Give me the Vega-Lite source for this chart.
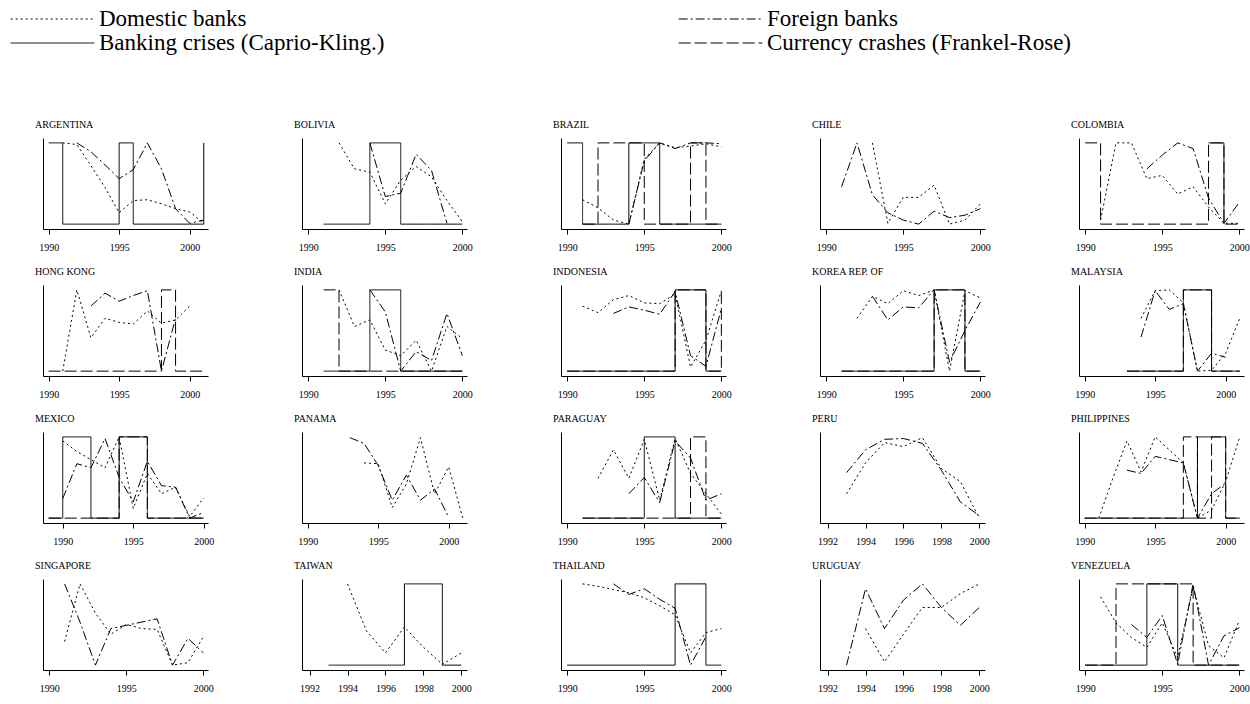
{
  "$schema": "https://vega.github.io/schema/vega-lite/v6.json",
  "background": "white",
  "padding": {"left": 10, "top": 7, "right": 0, "bottom": 0},
  "datasets": {
    "argentina": [
      {"year": 1990, "bank": 1},
      {"year": 1991, "dom": 1, "bank": 0},
      {"year": 1992, "dom": 0.98, "frg": 1, "bank": 0},
      {"year": 1993, "dom": 0.72, "frg": 0.89, "bank": 0},
      {"year": 1994, "dom": 0.45, "frg": 0.73, "bank": 0},
      {"year": 1995, "dom": 0.14, "frg": 0.56, "bank": 1},
      {"year": 1996, "dom": 0.29, "frg": 0.67, "bank": 0},
      {"year": 1997, "dom": 0.3, "frg": 1, "bank": 0},
      {"year": 1998, "dom": 0.25, "frg": 0.68, "bank": 0},
      {"year": 1999, "dom": 0.19, "frg": 0.19, "bank": 0},
      {"year": 2000, "dom": 0.15, "frg": 0.01, "bank": 0},
      {"year": 2001, "dom": 0.01, "frg": 0.05, "bank": 1}
    ],
    "bolivia": [
      {"year": 1991, "bank": 0},
      {"year": 1992, "dom": 1, "bank": 0},
      {"year": 1993, "dom": 0.68, "bank": 0},
      {"year": 1994, "dom": 0.64, "frg": 1, "bank": 1},
      {"year": 1995, "dom": 0.25, "frg": 0.34, "bank": 1},
      {"year": 1996, "dom": 0.54, "frg": 0.38, "bank": 0},
      {"year": 1997, "dom": 0.71, "frg": 0.86, "bank": 0},
      {"year": 1998, "dom": 0.58, "frg": 0.66, "bank": 0},
      {"year": 1999, "dom": 0.29, "frg": 0.01, "bank": 0},
      {"year": 2000, "dom": 0.03, "bank": 0}
    ],
    "brazil": [
      {"year": 1990, "bank": 1},
      {"year": 1991, "dom": 0.3, "bank": 0, "cur": 0},
      {"year": 1992, "dom": 0.2, "bank": 0, "cur": 1},
      {"year": 1993, "dom": 0.05, "bank": 0, "cur": 1},
      {"year": 1994, "dom": 0, "frg": 0, "bank": 1, "cur": 1},
      {"year": 1995, "dom": 0.8, "frg": 0.78, "bank": 1, "cur": 0},
      {"year": 1996, "dom": 1, "frg": 1, "bank": 0, "cur": 0},
      {"year": 1997, "dom": 0.94, "frg": 0.93, "bank": 0, "cur": 0},
      {"year": 1998, "dom": 0.96, "frg": 1, "bank": 0, "cur": 1},
      {"year": 1999, "dom": 0.99, "frg": 1, "bank": 0, "cur": 0},
      {"year": 2000, "dom": 0.95, "frg": 0.99, "bank": 0, "cur": 0}
    ],
    "chile": [
      {"year": 1991, "frg": 0.46},
      {"year": 1992, "frg": 1},
      {"year": 1993, "dom": 1, "frg": 0.36},
      {"year": 1994, "dom": 0.01, "frg": 0.14},
      {"year": 1995, "dom": 0.33, "frg": 0.05},
      {"year": 1996, "dom": 0.33, "frg": 0},
      {"year": 1997, "dom": 0.48, "frg": 0.16},
      {"year": 1998, "dom": 0, "frg": 0.08},
      {"year": 1999, "dom": 0.05, "frg": 0.11},
      {"year": 2000, "dom": 0.25, "frg": 0.19}
    ],
    "colombia": [
      {"year": 1990, "cur": 1},
      {"year": 1991, "dom": 0.05, "cur": 0},
      {"year": 1992, "dom": 1, "cur": 0},
      {"year": 1993, "dom": 1, "cur": 0},
      {"year": 1994, "dom": 0.56, "frg": 0.68, "cur": 0},
      {"year": 1995, "dom": 0.6, "frg": 0.85, "cur": 0},
      {"year": 1996, "dom": 0.37, "frg": 1, "cur": 0},
      {"year": 1997, "dom": 0.46, "frg": 0.93, "cur": 0},
      {"year": 1998, "dom": 0.21, "frg": 0.32, "bank": 1, "cur": 1},
      {"year": 1999, "dom": 0.01, "frg": 0.01, "bank": 0, "cur": 0},
      {"year": 2000, "dom": 0.01, "frg": 0.27, "cur": 0}
    ],
    "hongkong": [
      {"year": 1990, "cur": 0},
      {"year": 1991, "dom": 0, "cur": 0},
      {"year": 1992, "dom": 1, "cur": 0},
      {"year": 1993, "dom": 0.41, "frg": 0.8, "cur": 0},
      {"year": 1994, "dom": 0.65, "frg": 0.96, "cur": 0},
      {"year": 1995, "dom": 0.6, "frg": 0.86, "cur": 0},
      {"year": 1996, "dom": 0.58, "frg": 0.93, "cur": 0},
      {"year": 1997, "dom": 0.74, "frg": 0.99, "cur": 0},
      {"year": 1998, "dom": 0.59, "frg": 0, "cur": 1},
      {"year": 1999, "dom": 0.63, "frg": 0.65, "cur": 0},
      {"year": 2000, "dom": 0.8, "cur": 0},
      {"year": 2001, "cur": 0}
    ],
    "india": [
      {"year": 1991, "bank": 0, "cur": 1},
      {"year": 1992, "dom": 1, "bank": 0, "cur": 0},
      {"year": 1993, "dom": 0.55, "bank": 0, "cur": 0},
      {"year": 1994, "dom": 0.63, "frg": 1, "bank": 1, "cur": 0},
      {"year": 1995, "dom": 0.26, "frg": 0.73, "bank": 1, "cur": 0},
      {"year": 1996, "dom": 0.19, "frg": 0, "bank": 0, "cur": 0},
      {"year": 1997, "dom": 0.38, "frg": 0.24, "bank": 0, "cur": 0},
      {"year": 1998, "dom": 0, "frg": 0.13, "bank": 0, "cur": 0},
      {"year": 1999, "dom": 0.55, "frg": 0.71, "bank": 0, "cur": 0},
      {"year": 2000, "dom": 0.4, "frg": 0.19, "bank": 0, "cur": 0}
    ],
    "indonesia": [
      {"year": 1990, "bank": 0, "cur": 0},
      {"year": 1991, "dom": 0.8, "bank": 0, "cur": 0},
      {"year": 1992, "dom": 0.72, "bank": 0, "cur": 0},
      {"year": 1993, "dom": 0.88, "frg": 0.71, "bank": 0, "cur": 0},
      {"year": 1994, "dom": 0.93, "frg": 0.79, "bank": 0, "cur": 0},
      {"year": 1995, "dom": 0.84, "frg": 0.75, "bank": 0, "cur": 0},
      {"year": 1996, "dom": 0.83, "frg": 0.7, "bank": 0, "cur": 0},
      {"year": 1997, "dom": 0.95, "frg": 0.98, "bank": 1, "cur": 1},
      {"year": 1998, "dom": 0.05, "frg": 0.19, "bank": 1, "cur": 1},
      {"year": 1999, "dom": 0.38, "frg": 0.06, "bank": 0, "cur": 0},
      {"year": 2000, "dom": 0.99, "frg": 0.77, "bank": 0, "cur": 1}
    ],
    "korea": [
      {"year": 1991, "bank": 0, "cur": 0},
      {"year": 1992, "dom": 0.65, "bank": 0, "cur": 0},
      {"year": 1993, "dom": 0.92, "frg": 0.92, "bank": 0, "cur": 0},
      {"year": 1994, "dom": 0.83, "frg": 0.63, "bank": 0, "cur": 0},
      {"year": 1995, "dom": 0.99, "frg": 0.79, "bank": 0, "cur": 0},
      {"year": 1996, "dom": 0.93, "frg": 0.78, "bank": 0, "cur": 0},
      {"year": 1997, "dom": 1, "frg": 1, "bank": 1, "cur": 1},
      {"year": 1998, "dom": 0, "frg": 0.11, "bank": 1, "cur": 1},
      {"year": 1999, "dom": 0.99, "frg": 0.5, "bank": 0, "cur": 0},
      {"year": 2000, "dom": 0.9, "frg": 0.85, "bank": 0, "cur": 0}
    ],
    "malaysia": [
      {"year": 1993, "bank": 0, "cur": 0},
      {"year": 1994, "dom": 0.65, "frg": 0.42, "bank": 0, "cur": 0},
      {"year": 1995, "dom": 0.99, "frg": 0.99, "bank": 0, "cur": 0},
      {"year": 1996, "dom": 1, "frg": 0.76, "bank": 0, "cur": 0},
      {"year": 1997, "dom": 0.84, "frg": 0.83, "bank": 1, "cur": 1},
      {"year": 1998, "dom": 0, "frg": 0, "bank": 1, "cur": 1},
      {"year": 1999, "dom": 0.01, "frg": 0.22, "bank": 0, "cur": 0},
      {"year": 2000, "dom": 0.22, "frg": 0.17, "bank": 0, "cur": 0},
      {"year": 2001, "dom": 0.65, "bank": 0, "cur": 0}
    ],
    "mexico": [
      {"year": 1989, "bank": 0, "cur": 0},
      {"year": 1990, "dom": 0.95, "frg": 0.24, "bank": 1, "cur": 0},
      {"year": 1991, "dom": 0.82, "frg": 0.67, "bank": 1, "cur": 0},
      {"year": 1992, "dom": 0.72, "frg": 0.62, "bank": 0, "cur": 0},
      {"year": 1993, "dom": 0.62, "frg": 0.98, "bank": 0, "cur": 0},
      {"year": 1994, "dom": 1, "frg": 0.5, "bank": 1, "cur": 1},
      {"year": 1995, "dom": 0.12, "frg": 0.2, "bank": 1, "cur": 1},
      {"year": 1996, "dom": 0.55, "frg": 0.7, "bank": 0, "cur": 0},
      {"year": 1997, "dom": 0.3, "frg": 0.4, "bank": 0, "cur": 0},
      {"year": 1998, "dom": 0.38, "frg": 0.38, "bank": 0, "cur": 0},
      {"year": 1999, "dom": 0.02, "frg": 0, "bank": 0, "cur": 0},
      {"year": 2000, "dom": 0.25, "frg": 0.07, "bank": 0, "cur": 0}
    ],
    "panama": [
      {"year": 1993, "frg": 0.99},
      {"year": 1994, "dom": 0.68, "frg": 0.92},
      {"year": 1995, "dom": 0.67, "frg": 0.65},
      {"year": 1996, "dom": 0.13, "frg": 0.22},
      {"year": 1997, "dom": 0.42, "frg": 0.53},
      {"year": 1998, "dom": 0.99, "frg": 0.22},
      {"year": 1999, "dom": 0.3, "frg": 0.36},
      {"year": 2000, "dom": 0.63, "frg": 0.01},
      {"year": 2001, "dom": 0}
    ],
    "paraguay": [
      {"year": 1991, "bank": 0, "cur": 0},
      {"year": 1992, "dom": 0.49, "bank": 0, "cur": 0},
      {"year": 1993, "dom": 0.84, "bank": 0, "cur": 0},
      {"year": 1994, "dom": 0.49, "frg": 0.3, "bank": 0, "cur": 0},
      {"year": 1995, "dom": 0.97, "frg": 0.5, "bank": 1, "cur": 0},
      {"year": 1996, "dom": 0.22, "frg": 0.19, "bank": 1, "cur": 0},
      {"year": 1997, "dom": 0.98, "frg": 0.95, "bank": 0, "cur": 0},
      {"year": 1998, "dom": 0.55, "frg": 0.74, "bank": 0, "cur": 1},
      {"year": 1999, "dom": 0.3, "frg": 0.22, "bank": 0, "cur": 0},
      {"year": 2000, "dom": 0.05, "frg": 0.3, "bank": 0, "cur": 0}
    ],
    "peru": [
      {"year": 1993, "dom": 0.3, "frg": 0.56},
      {"year": 1994, "dom": 0.68, "frg": 0.84},
      {"year": 1995, "dom": 0.93, "frg": 0.97},
      {"year": 1996, "dom": 0.88, "frg": 0.98},
      {"year": 1997, "dom": 0.99, "frg": 0.92},
      {"year": 1998, "dom": 0.61, "frg": 0.59},
      {"year": 1999, "dom": 0.45, "frg": 0.2},
      {"year": 2000, "dom": 0, "frg": 0.03}
    ],
    "philippines": [
      {"year": 1990, "bank": 0, "cur": 0},
      {"year": 1991, "dom": 0, "bank": 0, "cur": 0},
      {"year": 1992, "dom": 0.49, "bank": 0, "cur": 0},
      {"year": 1993, "dom": 0.95, "frg": 0.59, "bank": 0, "cur": 0},
      {"year": 1994, "dom": 0.57, "frg": 0.55, "bank": 0, "cur": 0},
      {"year": 1995, "dom": 1, "frg": 0.76, "bank": 0, "cur": 0},
      {"year": 1996, "dom": 0.84, "frg": 0.72, "bank": 0, "cur": 0},
      {"year": 1997, "dom": 0.68, "frg": 0.68, "bank": 0, "cur": 1},
      {"year": 1998, "dom": 0, "frg": 0, "bank": 1, "cur": 0},
      {"year": 1999, "dom": 0.1, "frg": 0.3, "bank": 1, "cur": 1},
      {"year": 2000, "dom": 0.45, "frg": 0.43, "bank": 0, "cur": 0},
      {"year": 2001, "dom": 1, "bank": 0, "cur": 0}
    ],
    "singapore": [
      {"year": 1991, "dom": 0.29, "frg": 1},
      {"year": 1992, "dom": 1, "frg": 0.53},
      {"year": 1993, "dom": 0.64, "frg": 0},
      {"year": 1994, "dom": 0.38, "frg": 0.45},
      {"year": 1995, "dom": 0.5, "frg": 0.49},
      {"year": 1996, "dom": 0.45, "frg": 0.53},
      {"year": 1997, "dom": 0.44, "frg": 0.57},
      {"year": 1998, "dom": 0, "frg": 0},
      {"year": 1999, "dom": 0.03, "frg": 0.33},
      {"year": 2000, "dom": 0.35, "frg": 0.15}
    ],
    "taiwan": [
      {"year": 1993, "bank": 0},
      {"year": 1994, "dom": 1, "bank": 0},
      {"year": 1995, "dom": 0.42, "bank": 0},
      {"year": 1996, "dom": 0.15, "bank": 0},
      {"year": 1997, "dom": 0.47, "bank": 1},
      {"year": 1998, "dom": 0.22, "bank": 1},
      {"year": 1999, "dom": 0.01, "bank": 0},
      {"year": 2000, "dom": 0.15, "bank": 0}
    ],
    "thailand": [
      {"year": 1990, "bank": 0},
      {"year": 1991, "dom": 1, "bank": 0},
      {"year": 1992, "dom": 0.97, "bank": 0},
      {"year": 1993, "dom": 0.93, "frg": 1, "bank": 0},
      {"year": 1994, "dom": 0.89, "frg": 0.87, "bank": 0},
      {"year": 1995, "dom": 0.83, "frg": 0.94, "bank": 0},
      {"year": 1996, "dom": 0.73, "frg": 0.81, "bank": 0},
      {"year": 1997, "dom": 0.62, "frg": 0.7, "bank": 1},
      {"year": 1998, "dom": 0.15, "frg": 0, "bank": 1},
      {"year": 1999, "dom": 0.4, "frg": 0.35, "bank": 0},
      {"year": 2000, "dom": 0.45, "bank": 0}
    ],
    "uruguay": [
      {"year": 1993, "frg": 0},
      {"year": 1994, "dom": 0.45, "frg": 0.94},
      {"year": 1995, "dom": 0.04, "frg": 0.45},
      {"year": 1996, "dom": 0.38, "frg": 0.8},
      {"year": 1997, "dom": 0.71, "frg": 1},
      {"year": 1998, "dom": 0.71, "frg": 0.71},
      {"year": 1999, "dom": 0.88, "frg": 0.49},
      {"year": 2000, "dom": 1, "frg": 0.71}
    ],
    "venezuela": [
      {"year": 1990, "bank": 0, "cur": 0},
      {"year": 1991, "dom": 0.84, "bank": 0, "cur": 0},
      {"year": 1992, "dom": 0.52, "bank": 0, "cur": 1},
      {"year": 1993, "dom": 0.34, "frg": 0.5, "bank": 0, "cur": 1},
      {"year": 1994, "dom": 0.22, "frg": 0.34, "bank": 1, "cur": 1},
      {"year": 1995, "dom": 0.52, "frg": 0.61, "bank": 1, "cur": 1},
      {"year": 1996, "dom": 0.09, "frg": 0.01, "bank": 0, "cur": 1},
      {"year": 1997, "dom": 0.96, "frg": 1, "bank": 0, "cur": 0},
      {"year": 1998, "dom": 0.24, "frg": 0, "bank": 0, "cur": 0},
      {"year": 1999, "dom": 0.09, "frg": 0.36, "bank": 0, "cur": 0},
      {"year": 2000, "dom": 0.55, "frg": 0.46, "bank": 0, "cur": 0}
    ]
  },
  "columns": 5,
  "spacing": {"row": 15, "column": 80},
  "concat": [
    {"title": "ARGENTINA", "data": {"name": "argentina"},
     "transform": [{"fold": ["dom", "frg", "bank", "cur"], "as": ["series", "value"]}, {"filter": "isValid(datum.value)"}],
     "encoding": {
       "x": {"field": "year", "type": "quantitative", "title": null, "scale": {"domain": [1989.6, 2001.3]}, "axis": {"values": [1990, 1995, 2000]}},
       "y": {"field": "value", "type": "quantitative", "title": null, "scale": {"domain": [-0.06, 1.06]}},
       "strokeDash": {"field": "series", "type": "nominal", "scale": {"domain": ["dom", "bank", "frg", "cur"], "range": [[2, 3], [1, 0], [9, 3, 2, 3], [12, 4]]}, "legend": {"title": null, "labelExpr": "datum.label=='dom'?'Domestic banks':datum.label=='frg'?'Foreign banks':datum.label=='bank'?'Banking crises (Caprio-Kling.)':'Currency crashes (Frankel-Rose)'"}}
     },
     "layer": [
       {"transform": [{"filter": "datum.series=='dom'||datum.series=='frg'"}], "mark": "line"},
       {"transform": [{"filter": "datum.series=='bank'||datum.series=='cur'"}], "mark": {"type": "line", "interpolate": "step-after"}}
     ]},
    {"title": "BOLIVIA", "data": {"name": "bolivia"},
     "transform": [{"fold": ["dom", "frg", "bank", "cur"], "as": ["series", "value"]}, {"filter": "isValid(datum.value)"}],
     "encoding": {
       "x": {"field": "year", "type": "quantitative", "title": null, "scale": {"domain": [1989.6, 2000.3]}, "axis": {"values": [1990, 1995, 2000]}},
       "y": {"field": "value", "type": "quantitative", "title": null, "scale": {"domain": [-0.06, 1.06]}},
       "strokeDash": {"field": "series", "type": "nominal", "scale": {"domain": ["dom", "bank", "frg", "cur"], "range": [[2, 3], [1, 0], [9, 3, 2, 3], [12, 4]]}, "legend": {"title": null, "labelExpr": "datum.label=='dom'?'Domestic banks':datum.label=='frg'?'Foreign banks':datum.label=='bank'?'Banking crises (Caprio-Kling.)':'Currency crashes (Frankel-Rose)'"}}
     },
     "layer": [
       {"transform": [{"filter": "datum.series=='dom'||datum.series=='frg'"}], "mark": "line"},
       {"transform": [{"filter": "datum.series=='bank'||datum.series=='cur'"}], "mark": {"type": "line", "interpolate": "step-after"}}
     ]},
    {"title": "BRAZIL", "data": {"name": "brazil"},
     "transform": [{"fold": ["dom", "frg", "bank", "cur"], "as": ["series", "value"]}, {"filter": "isValid(datum.value)"}],
     "encoding": {
       "x": {"field": "year", "type": "quantitative", "title": null, "scale": {"domain": [1989.6, 2000.3]}, "axis": {"values": [1990, 1995, 2000]}},
       "y": {"field": "value", "type": "quantitative", "title": null, "scale": {"domain": [-0.06, 1.06]}},
       "strokeDash": {"field": "series", "type": "nominal", "scale": {"domain": ["dom", "bank", "frg", "cur"], "range": [[2, 3], [1, 0], [9, 3, 2, 3], [12, 4]]}, "legend": {"title": null, "labelExpr": "datum.label=='dom'?'Domestic banks':datum.label=='frg'?'Foreign banks':datum.label=='bank'?'Banking crises (Caprio-Kling.)':'Currency crashes (Frankel-Rose)'"}}
     },
     "layer": [
       {"transform": [{"filter": "datum.series=='dom'||datum.series=='frg'"}], "mark": "line"},
       {"transform": [{"filter": "datum.series=='bank'||datum.series=='cur'"}], "mark": {"type": "line", "interpolate": "step-after"}}
     ]},
    {"title": "CHILE", "data": {"name": "chile"},
     "transform": [{"fold": ["dom", "frg", "bank", "cur"], "as": ["series", "value"]}, {"filter": "isValid(datum.value)"}],
     "encoding": {
       "x": {"field": "year", "type": "quantitative", "title": null, "scale": {"domain": [1989.6, 2000.3]}, "axis": {"values": [1990, 1995, 2000]}},
       "y": {"field": "value", "type": "quantitative", "title": null, "scale": {"domain": [-0.06, 1.06]}},
       "strokeDash": {"field": "series", "type": "nominal", "scale": {"domain": ["dom", "bank", "frg", "cur"], "range": [[2, 3], [1, 0], [9, 3, 2, 3], [12, 4]]}, "legend": {"title": null, "labelExpr": "datum.label=='dom'?'Domestic banks':datum.label=='frg'?'Foreign banks':datum.label=='bank'?'Banking crises (Caprio-Kling.)':'Currency crashes (Frankel-Rose)'"}}
     },
     "layer": [
       {"transform": [{"filter": "datum.series=='dom'||datum.series=='frg'"}], "mark": "line"},
       {"transform": [{"filter": "datum.series=='bank'||datum.series=='cur'"}], "mark": {"type": "line", "interpolate": "step-after"}}
     ]},
    {"title": "COLOMBIA", "data": {"name": "colombia"},
     "transform": [{"fold": ["dom", "frg", "bank", "cur"], "as": ["series", "value"]}, {"filter": "isValid(datum.value)"}],
     "encoding": {
       "x": {"field": "year", "type": "quantitative", "title": null, "scale": {"domain": [1989.6, 2000.3]}, "axis": {"values": [1990, 1995, 2000]}},
       "y": {"field": "value", "type": "quantitative", "title": null, "scale": {"domain": [-0.06, 1.06]}},
       "strokeDash": {"field": "series", "type": "nominal", "scale": {"domain": ["dom", "bank", "frg", "cur"], "range": [[2, 3], [1, 0], [9, 3, 2, 3], [12, 4]]}, "legend": {"title": null, "labelExpr": "datum.label=='dom'?'Domestic banks':datum.label=='frg'?'Foreign banks':datum.label=='bank'?'Banking crises (Caprio-Kling.)':'Currency crashes (Frankel-Rose)'"}}
     },
     "layer": [
       {"transform": [{"filter": "datum.series=='dom'||datum.series=='frg'"}], "mark": "line"},
       {"transform": [{"filter": "datum.series=='bank'||datum.series=='cur'"}], "mark": {"type": "line", "interpolate": "step-after"}}
     ]},
    {"title": "HONG KONG", "data": {"name": "hongkong"},
     "transform": [{"fold": ["dom", "frg", "bank", "cur"], "as": ["series", "value"]}, {"filter": "isValid(datum.value)"}],
     "encoding": {
       "x": {"field": "year", "type": "quantitative", "title": null, "scale": {"domain": [1989.6, 2001.3]}, "axis": {"values": [1990, 1995, 2000]}},
       "y": {"field": "value", "type": "quantitative", "title": null, "scale": {"domain": [-0.06, 1.06]}},
       "strokeDash": {"field": "series", "type": "nominal", "scale": {"domain": ["dom", "bank", "frg", "cur"], "range": [[2, 3], [1, 0], [9, 3, 2, 3], [12, 4]]}, "legend": {"title": null, "labelExpr": "datum.label=='dom'?'Domestic banks':datum.label=='frg'?'Foreign banks':datum.label=='bank'?'Banking crises (Caprio-Kling.)':'Currency crashes (Frankel-Rose)'"}}
     },
     "layer": [
       {"transform": [{"filter": "datum.series=='dom'||datum.series=='frg'"}], "mark": "line"},
       {"transform": [{"filter": "datum.series=='bank'||datum.series=='cur'"}], "mark": {"type": "line", "interpolate": "step-after"}}
     ]},
    {"title": "INDIA", "data": {"name": "india"},
     "transform": [{"fold": ["dom", "frg", "bank", "cur"], "as": ["series", "value"]}, {"filter": "isValid(datum.value)"}],
     "encoding": {
       "x": {"field": "year", "type": "quantitative", "title": null, "scale": {"domain": [1989.6, 2000.3]}, "axis": {"values": [1990, 1995, 2000]}},
       "y": {"field": "value", "type": "quantitative", "title": null, "scale": {"domain": [-0.06, 1.06]}},
       "strokeDash": {"field": "series", "type": "nominal", "scale": {"domain": ["dom", "bank", "frg", "cur"], "range": [[2, 3], [1, 0], [9, 3, 2, 3], [12, 4]]}, "legend": {"title": null, "labelExpr": "datum.label=='dom'?'Domestic banks':datum.label=='frg'?'Foreign banks':datum.label=='bank'?'Banking crises (Caprio-Kling.)':'Currency crashes (Frankel-Rose)'"}}
     },
     "layer": [
       {"transform": [{"filter": "datum.series=='dom'||datum.series=='frg'"}], "mark": "line"},
       {"transform": [{"filter": "datum.series=='bank'||datum.series=='cur'"}], "mark": {"type": "line", "interpolate": "step-after"}}
     ]},
    {"title": "INDONESIA", "data": {"name": "indonesia"},
     "transform": [{"fold": ["dom", "frg", "bank", "cur"], "as": ["series", "value"]}, {"filter": "isValid(datum.value)"}],
     "encoding": {
       "x": {"field": "year", "type": "quantitative", "title": null, "scale": {"domain": [1989.6, 2000.3]}, "axis": {"values": [1990, 1995, 2000]}},
       "y": {"field": "value", "type": "quantitative", "title": null, "scale": {"domain": [-0.06, 1.06]}},
       "strokeDash": {"field": "series", "type": "nominal", "scale": {"domain": ["dom", "bank", "frg", "cur"], "range": [[2, 3], [1, 0], [9, 3, 2, 3], [12, 4]]}, "legend": {"title": null, "labelExpr": "datum.label=='dom'?'Domestic banks':datum.label=='frg'?'Foreign banks':datum.label=='bank'?'Banking crises (Caprio-Kling.)':'Currency crashes (Frankel-Rose)'"}}
     },
     "layer": [
       {"transform": [{"filter": "datum.series=='dom'||datum.series=='frg'"}], "mark": "line"},
       {"transform": [{"filter": "datum.series=='bank'||datum.series=='cur'"}], "mark": {"type": "line", "interpolate": "step-after"}}
     ]},
    {"title": "KOREA REP. OF", "data": {"name": "korea"},
     "transform": [{"fold": ["dom", "frg", "bank", "cur"], "as": ["series", "value"]}, {"filter": "isValid(datum.value)"}],
     "encoding": {
       "x": {"field": "year", "type": "quantitative", "title": null, "scale": {"domain": [1989.6, 2000.3]}, "axis": {"values": [1990, 1995, 2000]}},
       "y": {"field": "value", "type": "quantitative", "title": null, "scale": {"domain": [-0.06, 1.06]}},
       "strokeDash": {"field": "series", "type": "nominal", "scale": {"domain": ["dom", "bank", "frg", "cur"], "range": [[2, 3], [1, 0], [9, 3, 2, 3], [12, 4]]}, "legend": {"title": null, "labelExpr": "datum.label=='dom'?'Domestic banks':datum.label=='frg'?'Foreign banks':datum.label=='bank'?'Banking crises (Caprio-Kling.)':'Currency crashes (Frankel-Rose)'"}}
     },
     "layer": [
       {"transform": [{"filter": "datum.series=='dom'||datum.series=='frg'"}], "mark": "line"},
       {"transform": [{"filter": "datum.series=='bank'||datum.series=='cur'"}], "mark": {"type": "line", "interpolate": "step-after"}}
     ]},
    {"title": "MALAYSIA", "data": {"name": "malaysia"},
     "transform": [{"fold": ["dom", "frg", "bank", "cur"], "as": ["series", "value"]}, {"filter": "isValid(datum.value)"}],
     "encoding": {
       "x": {"field": "year", "type": "quantitative", "title": null, "scale": {"domain": [1989.6, 2001.3]}, "axis": {"values": [1990, 1995, 2000]}},
       "y": {"field": "value", "type": "quantitative", "title": null, "scale": {"domain": [-0.06, 1.06]}},
       "strokeDash": {"field": "series", "type": "nominal", "scale": {"domain": ["dom", "bank", "frg", "cur"], "range": [[2, 3], [1, 0], [9, 3, 2, 3], [12, 4]]}, "legend": {"title": null, "labelExpr": "datum.label=='dom'?'Domestic banks':datum.label=='frg'?'Foreign banks':datum.label=='bank'?'Banking crises (Caprio-Kling.)':'Currency crashes (Frankel-Rose)'"}}
     },
     "layer": [
       {"transform": [{"filter": "datum.series=='dom'||datum.series=='frg'"}], "mark": "line"},
       {"transform": [{"filter": "datum.series=='bank'||datum.series=='cur'"}], "mark": {"type": "line", "interpolate": "step-after"}}
     ]},
    {"title": "MEXICO", "data": {"name": "mexico"},
     "transform": [{"fold": ["dom", "frg", "bank", "cur"], "as": ["series", "value"]}, {"filter": "isValid(datum.value)"}],
     "encoding": {
       "x": {"field": "year", "type": "quantitative", "title": null, "scale": {"domain": [1988.6, 2000.3]}, "axis": {"values": [1990, 1995, 2000]}},
       "y": {"field": "value", "type": "quantitative", "title": null, "scale": {"domain": [-0.06, 1.06]}},
       "strokeDash": {"field": "series", "type": "nominal", "scale": {"domain": ["dom", "bank", "frg", "cur"], "range": [[2, 3], [1, 0], [9, 3, 2, 3], [12, 4]]}, "legend": {"title": null, "labelExpr": "datum.label=='dom'?'Domestic banks':datum.label=='frg'?'Foreign banks':datum.label=='bank'?'Banking crises (Caprio-Kling.)':'Currency crashes (Frankel-Rose)'"}}
     },
     "layer": [
       {"transform": [{"filter": "datum.series=='dom'||datum.series=='frg'"}], "mark": "line"},
       {"transform": [{"filter": "datum.series=='bank'||datum.series=='cur'"}], "mark": {"type": "line", "interpolate": "step-after"}}
     ]},
    {"title": "PANAMA", "data": {"name": "panama"},
     "transform": [{"fold": ["dom", "frg", "bank", "cur"], "as": ["series", "value"]}, {"filter": "isValid(datum.value)"}],
     "encoding": {
       "x": {"field": "year", "type": "quantitative", "title": null, "scale": {"domain": [1989.6, 2001.3]}, "axis": {"values": [1990, 1995, 2000]}},
       "y": {"field": "value", "type": "quantitative", "title": null, "scale": {"domain": [-0.06, 1.06]}},
       "strokeDash": {"field": "series", "type": "nominal", "scale": {"domain": ["dom", "bank", "frg", "cur"], "range": [[2, 3], [1, 0], [9, 3, 2, 3], [12, 4]]}, "legend": {"title": null, "labelExpr": "datum.label=='dom'?'Domestic banks':datum.label=='frg'?'Foreign banks':datum.label=='bank'?'Banking crises (Caprio-Kling.)':'Currency crashes (Frankel-Rose)'"}}
     },
     "layer": [
       {"transform": [{"filter": "datum.series=='dom'||datum.series=='frg'"}], "mark": "line"},
       {"transform": [{"filter": "datum.series=='bank'||datum.series=='cur'"}], "mark": {"type": "line", "interpolate": "step-after"}}
     ]},
    {"title": "PARAGUAY", "data": {"name": "paraguay"},
     "transform": [{"fold": ["dom", "frg", "bank", "cur"], "as": ["series", "value"]}, {"filter": "isValid(datum.value)"}],
     "encoding": {
       "x": {"field": "year", "type": "quantitative", "title": null, "scale": {"domain": [1989.6, 2000.3]}, "axis": {"values": [1990, 1995, 2000]}},
       "y": {"field": "value", "type": "quantitative", "title": null, "scale": {"domain": [-0.06, 1.06]}},
       "strokeDash": {"field": "series", "type": "nominal", "scale": {"domain": ["dom", "bank", "frg", "cur"], "range": [[2, 3], [1, 0], [9, 3, 2, 3], [12, 4]]}, "legend": {"title": null, "labelExpr": "datum.label=='dom'?'Domestic banks':datum.label=='frg'?'Foreign banks':datum.label=='bank'?'Banking crises (Caprio-Kling.)':'Currency crashes (Frankel-Rose)'"}}
     },
     "layer": [
       {"transform": [{"filter": "datum.series=='dom'||datum.series=='frg'"}], "mark": "line"},
       {"transform": [{"filter": "datum.series=='bank'||datum.series=='cur'"}], "mark": {"type": "line", "interpolate": "step-after"}}
     ]},
    {"title": "PERU", "data": {"name": "peru"},
     "transform": [{"fold": ["dom", "frg", "bank", "cur"], "as": ["series", "value"]}, {"filter": "isValid(datum.value)"}],
     "encoding": {
       "x": {"field": "year", "type": "quantitative", "title": null, "scale": {"domain": [1991.6, 2000.3]}, "axis": {"values": [1992, 1994, 1996, 1998, 2000]}},
       "y": {"field": "value", "type": "quantitative", "title": null, "scale": {"domain": [-0.06, 1.06]}},
       "strokeDash": {"field": "series", "type": "nominal", "scale": {"domain": ["dom", "bank", "frg", "cur"], "range": [[2, 3], [1, 0], [9, 3, 2, 3], [12, 4]]}, "legend": {"title": null, "labelExpr": "datum.label=='dom'?'Domestic banks':datum.label=='frg'?'Foreign banks':datum.label=='bank'?'Banking crises (Caprio-Kling.)':'Currency crashes (Frankel-Rose)'"}}
     },
     "layer": [
       {"transform": [{"filter": "datum.series=='dom'||datum.series=='frg'"}], "mark": "line"},
       {"transform": [{"filter": "datum.series=='bank'||datum.series=='cur'"}], "mark": {"type": "line", "interpolate": "step-after"}}
     ]},
    {"title": "PHILIPPINES", "data": {"name": "philippines"},
     "transform": [{"fold": ["dom", "frg", "bank", "cur"], "as": ["series", "value"]}, {"filter": "isValid(datum.value)"}],
     "encoding": {
       "x": {"field": "year", "type": "quantitative", "title": null, "scale": {"domain": [1989.6, 2001.3]}, "axis": {"values": [1990, 1995, 2000]}},
       "y": {"field": "value", "type": "quantitative", "title": null, "scale": {"domain": [-0.06, 1.06]}},
       "strokeDash": {"field": "series", "type": "nominal", "scale": {"domain": ["dom", "bank", "frg", "cur"], "range": [[2, 3], [1, 0], [9, 3, 2, 3], [12, 4]]}, "legend": {"title": null, "labelExpr": "datum.label=='dom'?'Domestic banks':datum.label=='frg'?'Foreign banks':datum.label=='bank'?'Banking crises (Caprio-Kling.)':'Currency crashes (Frankel-Rose)'"}}
     },
     "layer": [
       {"transform": [{"filter": "datum.series=='dom'||datum.series=='frg'"}], "mark": "line"},
       {"transform": [{"filter": "datum.series=='bank'||datum.series=='cur'"}], "mark": {"type": "line", "interpolate": "step-after"}}
     ]},
    {"title": "SINGAPORE", "data": {"name": "singapore"},
     "transform": [{"fold": ["dom", "frg", "bank", "cur"], "as": ["series", "value"]}, {"filter": "isValid(datum.value)"}],
     "encoding": {
       "x": {"field": "year", "type": "quantitative", "title": null, "scale": {"domain": [1989.6, 2000.3]}, "axis": {"values": [1990, 1995, 2000]}},
       "y": {"field": "value", "type": "quantitative", "title": null, "scale": {"domain": [-0.06, 1.06]}},
       "strokeDash": {"field": "series", "type": "nominal", "scale": {"domain": ["dom", "bank", "frg", "cur"], "range": [[2, 3], [1, 0], [9, 3, 2, 3], [12, 4]]}, "legend": {"title": null, "labelExpr": "datum.label=='dom'?'Domestic banks':datum.label=='frg'?'Foreign banks':datum.label=='bank'?'Banking crises (Caprio-Kling.)':'Currency crashes (Frankel-Rose)'"}}
     },
     "layer": [
       {"transform": [{"filter": "datum.series=='dom'||datum.series=='frg'"}], "mark": "line"},
       {"transform": [{"filter": "datum.series=='bank'||datum.series=='cur'"}], "mark": {"type": "line", "interpolate": "step-after"}}
     ]},
    {"title": "TAIWAN", "data": {"name": "taiwan"},
     "transform": [{"fold": ["dom", "frg", "bank", "cur"], "as": ["series", "value"]}, {"filter": "isValid(datum.value)"}],
     "encoding": {
       "x": {"field": "year", "type": "quantitative", "title": null, "scale": {"domain": [1991.6, 2000.3]}, "axis": {"values": [1992, 1994, 1996, 1998, 2000]}},
       "y": {"field": "value", "type": "quantitative", "title": null, "scale": {"domain": [-0.06, 1.06]}},
       "strokeDash": {"field": "series", "type": "nominal", "scale": {"domain": ["dom", "bank", "frg", "cur"], "range": [[2, 3], [1, 0], [9, 3, 2, 3], [12, 4]]}, "legend": {"title": null, "labelExpr": "datum.label=='dom'?'Domestic banks':datum.label=='frg'?'Foreign banks':datum.label=='bank'?'Banking crises (Caprio-Kling.)':'Currency crashes (Frankel-Rose)'"}}
     },
     "layer": [
       {"transform": [{"filter": "datum.series=='dom'||datum.series=='frg'"}], "mark": "line"},
       {"transform": [{"filter": "datum.series=='bank'||datum.series=='cur'"}], "mark": {"type": "line", "interpolate": "step-after"}}
     ]},
    {"title": "THAILAND", "data": {"name": "thailand"},
     "transform": [{"fold": ["dom", "frg", "bank", "cur"], "as": ["series", "value"]}, {"filter": "isValid(datum.value)"}],
     "encoding": {
       "x": {"field": "year", "type": "quantitative", "title": null, "scale": {"domain": [1989.6, 2000.3]}, "axis": {"values": [1990, 1995, 2000]}},
       "y": {"field": "value", "type": "quantitative", "title": null, "scale": {"domain": [-0.06, 1.06]}},
       "strokeDash": {"field": "series", "type": "nominal", "scale": {"domain": ["dom", "bank", "frg", "cur"], "range": [[2, 3], [1, 0], [9, 3, 2, 3], [12, 4]]}, "legend": {"title": null, "labelExpr": "datum.label=='dom'?'Domestic banks':datum.label=='frg'?'Foreign banks':datum.label=='bank'?'Banking crises (Caprio-Kling.)':'Currency crashes (Frankel-Rose)'"}}
     },
     "layer": [
       {"transform": [{"filter": "datum.series=='dom'||datum.series=='frg'"}], "mark": "line"},
       {"transform": [{"filter": "datum.series=='bank'||datum.series=='cur'"}], "mark": {"type": "line", "interpolate": "step-after"}}
     ]},
    {"title": "URUGUAY", "data": {"name": "uruguay"},
     "transform": [{"fold": ["dom", "frg", "bank", "cur"], "as": ["series", "value"]}, {"filter": "isValid(datum.value)"}],
     "encoding": {
       "x": {"field": "year", "type": "quantitative", "title": null, "scale": {"domain": [1991.6, 2000.3]}, "axis": {"values": [1992, 1994, 1996, 1998, 2000]}},
       "y": {"field": "value", "type": "quantitative", "title": null, "scale": {"domain": [-0.06, 1.06]}},
       "strokeDash": {"field": "series", "type": "nominal", "scale": {"domain": ["dom", "bank", "frg", "cur"], "range": [[2, 3], [1, 0], [9, 3, 2, 3], [12, 4]]}, "legend": {"title": null, "labelExpr": "datum.label=='dom'?'Domestic banks':datum.label=='frg'?'Foreign banks':datum.label=='bank'?'Banking crises (Caprio-Kling.)':'Currency crashes (Frankel-Rose)'"}}
     },
     "layer": [
       {"transform": [{"filter": "datum.series=='dom'||datum.series=='frg'"}], "mark": "line"},
       {"transform": [{"filter": "datum.series=='bank'||datum.series=='cur'"}], "mark": {"type": "line", "interpolate": "step-after"}}
     ]},
    {"title": "VENEZUELA", "data": {"name": "venezuela"},
     "transform": [{"fold": ["dom", "frg", "bank", "cur"], "as": ["series", "value"]}, {"filter": "isValid(datum.value)"}],
     "encoding": {
       "x": {"field": "year", "type": "quantitative", "title": null, "scale": {"domain": [1989.6, 2000.3]}, "axis": {"values": [1990, 1995, 2000]}},
       "y": {"field": "value", "type": "quantitative", "title": null, "scale": {"domain": [-0.06, 1.06]}},
       "strokeDash": {"field": "series", "type": "nominal", "scale": {"domain": ["dom", "bank", "frg", "cur"], "range": [[2, 3], [1, 0], [9, 3, 2, 3], [12, 4]]}, "legend": {"title": null, "labelExpr": "datum.label=='dom'?'Domestic banks':datum.label=='frg'?'Foreign banks':datum.label=='bank'?'Banking crises (Caprio-Kling.)':'Currency crashes (Frankel-Rose)'"}}
     },
     "layer": [
       {"transform": [{"filter": "datum.series=='dom'||datum.series=='frg'"}], "mark": "line"},
       {"transform": [{"filter": "datum.series=='bank'||datum.series=='cur'"}], "mark": {"type": "line", "interpolate": "step-after"}}
     ]}
  ],
  "config": {
    "view": {"stroke": null, "continuousWidth": 165, "continuousHeight": 91},
    "font": "Liberation Serif",
    "title": {"font": "Liberation Serif", "fontSize": 10, "fontWeight": "normal", "anchor": "start", "frame": "group", "offset": 8, "color": "black", "dx": -8},
    "axis": {"grid": false, "format": "d", "domainColor": "black", "domainWidth": 1, "tickColor": "black", "tickSize": 5, "tickWidth": 1, "labelFont": "Liberation Serif", "labelFontSize": 10, "labelColor": "black", "labelPadding": 8, "labelFlush": false, "labelOverlap": false},
    "axisY": {"labels": false, "ticks": false},
    "line": {"color": "black", "strokeWidth": 1},
    "legend": {"orient": "none", "legendX": -33, "legendY": -131, "columns": 2, "columnPadding": 293, "rowPadding": 0, "symbolType": "stroke", "symbolSize": 7000, "clipHeight": 24, "symbolStrokeWidth": 1, "symbolStrokeColor": "black", "labelFont": "Liberation Serif", "labelFontSize": 23, "labelColor": "black", "labelOffset": 4, "labelLimit": 500}
  }
}
